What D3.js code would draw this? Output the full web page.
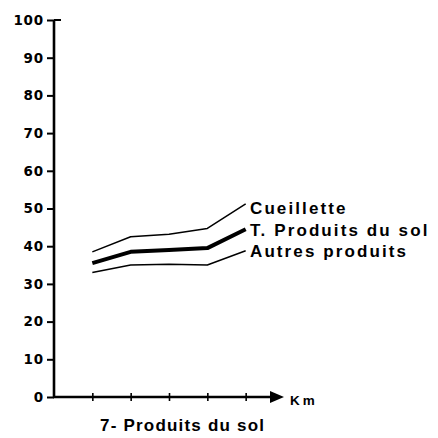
<!DOCTYPE html>
<html><head><meta charset="utf-8">
<script src="https://cdn.jsdelivr.net/npm/d3@7"></script>
<style>html,body{margin:0;padding:0;background:#fff;}svg{display:block;}</style>
</head><body>
<svg id="c" width="438" height="438"></svg>
<script>
const steps = [1, 2, 3, 4, 5];
const cueillette = [38.5, 42.5, 43.2, 44.7, 51.2];
const totalSol = [35.5, 38.5, 39.0, 39.5, 44.5];
const autres = [33.0, 35.0, 35.2, 35.0, 38.8];
const yTicks = [0, 10, 20, 30, 40, 50, 60, 70, 80, 90, 100];
const seriesNames = ["Cueillette", "T. Produits du sol", "Autres produits"];
const title = "7- Produits du sol";
const xUnit = "Km";

const svg = d3.select("#c");
const x = d3.scaleLinear().domain([0, 6]).range([54, 284]);
const y = d3.scaleLinear().domain([0, 100]).range([397, 20]);
const font = "'Liberation Sans', Arial, sans-serif";
const dfont = "'DejaVu Sans', sans-serif";

// Y axis
const yAxis = d3.axisLeft(y).tickValues(yTicks).tickSize(7).tickPadding(3);
const gy = svg.append("g").attr("transform", "translate(54,0)").call(yAxis);
gy.select(".domain").remove();
gy.selectAll(".tick line").attr("stroke", "#000").attr("stroke-width", 2);
gy.selectAll(".tick text").attr("font-family", dfont).attr("font-weight", "bold")
  .attr("font-size", 13.5).attr("fill", "#000").attr("letter-spacing", "0.8");
svg.append("line").attr("x1", 54).attr("x2", 54).attr("y1", y(100)).attr("y2", y(0) + 1)
  .attr("stroke", "#000").attr("stroke-width", 2.6);
svg.append("line").attr("x1", 54).attr("x2", 61).attr("y1", y(100)).attr("y2", y(100))
  .attr("stroke", "#000").attr("stroke-width", 2);

// X axis
svg.append("line").attr("x1", 53).attr("x2", 272).attr("y1", y(0)).attr("y2", y(0))
  .attr("stroke", "#000").attr("stroke-width", 2.6);
svg.append("path").attr("d", `M270,${y(0) - 6}L284,${y(0)}L270,${y(0) + 6}Z`).attr("fill", "#000");
const xAxis = d3.axisBottom(x).tickValues(steps).tickSize(4).tickFormat("");
const gx = svg.append("g").attr("transform", `translate(0,${y(0)})`).call(xAxis);
gx.select(".domain").remove();
gx.selectAll(".tick line").attr("y1", -4).attr("stroke", "#000").attr("stroke-width", 1.6);
svg.append("text").attr("x", 290).attr("y", y(0) + 8).text(xUnit)
  .attr("font-family", font).attr("font-weight", "bold").attr("font-size", 13.5).attr("letter-spacing", "3");

// Lines
const line = d3.line().x((d, i) => x(steps[i])).y(d => y(d));
const series = [
  {vals: cueillette, w: 1.5},
  {vals: totalSol, w: 4},
  {vals: autres, w: 1.5}
];
series.forEach(s => {
  svg.append("path").datum(s.vals).attr("d", line).attr("fill", "none")
    .attr("stroke", "#000").attr("stroke-width", s.w).attr("stroke-linejoin", "round");
});

// Labels
const labelY = [208, 230, 251];
seriesNames.forEach((n, i) => {
  svg.append("text").attr("x", 250).attr("y", labelY[i]).attr("dy", "0.35em").text(n)
    .attr("font-family", font).attr("font-weight", "bold").attr("font-size", 17)
    .attr("letter-spacing", "2.1");
});

// Title
svg.append("text").attr("x", 100).attr("y", 431).text(title)
  .attr("font-family", font).attr("font-weight", "bold").attr("font-size", 17).attr("letter-spacing", "1.2");
</script>
</body></html>
